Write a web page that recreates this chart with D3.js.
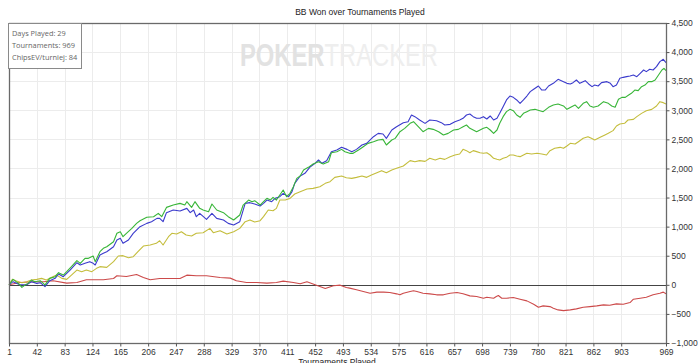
<!DOCTYPE html>
<html>
<head>
<meta charset="utf-8">
<script src="https://cdn.jsdelivr.net/npm/d3@7"></script>
<style>
  html, body { margin: 0; padding: 0; background: #fff; }
  svg { display: block; }
</style>
</head>
<body>
<svg id="chart" width="700" height="363"></svg>
<script>
// ---------------- DATA ----------------
const title = "BB Won over Tournaments Played";
const xTitle = "Tournaments Played";
const infoLines = ["Days Played: 29", "Tournaments: 969", "ChipsEV/turniej: 84"];
const xTickLabels = [1, 42, 83, 124, 165, 206, 247, 288, 329, 370, 411, 452, 493, 534, 575, 616, 657, 698, 739, 780, 821, 862, 903, 969];
const yTickLabels = [-1000, -500, 0, 500, 1000, 1500, 2000, 2500, 3000, 3500, 4000, 4500];

// [tournament, BB]
const blueSeries = [
  [1,0],[7,54],[17,0],[27,0],[34,54],[42,25],[47,37],[54,-32],[61,71],[69,111],[74,186],[81,140],[91,254],[101,380],[106,340],[113,369],[120,398],[125,369],[128,340],[135,512],[140,541],[145,569],[155,655],[160,770],[165,799],[169,713],[177,770],[184,885],[194,999],[204,1056],[211,1085],[219,1142],[223,1142],[228,1085],[233,1240],[243,1286],[253,1268],[263,1314],[268,1240],[273,1286],[277,1171],[282,1228],[292,1125],[300,1228],[307,1142],[317,1114],[324,1056],[332,1028],[341,1085],[349,1400],[356,1412],[363,1389],[371,1354],[376,1400],[381,1457],[388,1429],[393,1486],[400,1515],[405,1572],[413,1515],[418,1601],[422,1744],[430,1870],[437,1916],[445,2030],[452,2088],[457,2145],[462,2088],[469,2134],[476,2288],[484,2317],[491,2363],[499,2328],[506,2288],[513,2328],[521,2403],[528,2431],[538,2546],[545,2603],[552,2592],[557,2517],[565,2661],[572,2718],[582,2787],[589,2804],[594,2918],[599,2890],[606,2832],[614,2775],[621,2832],[631,2821],[638,2787],[643,2747],[651,2758],[658,2804],[665,2832],[670,2862],[675,2919],[680,2936],[685,2890],[690,2862],[695,2862],[700,2890],[705,2850],[710,2902],[715,2833],[720,2862],[724,2947],[729,3062],[734,3177],[739,3245],[744,3222],[749,3177],[754,3119],[759,3177],[764,3245],[769,3320],[774,3360],[781,3417],[786,3348],[791,3348],[796,3417],[803,3463],[810,3532],[818,3492],[823,3463],[828,3452],[832,3475],[837,3520],[842,3463],[850,3509],[855,3452],[860,3406],[864,3434],[869,3417],[874,3475],[882,3492],[887,3463],[891,3406],[896,3434],[901,3549],[906,3566],[911,3578],[916,3589],[921,3606],[926,3578],[931,3635],[936,3692],[940,3664],[945,3704],[950,3692],[955,3750],[960,3836],[965,3876],[969,3818]
];
const greenSeries = [
  [1,0],[7,94],[15,25],[20,-44],[25,0],[29,25],[34,82],[39,54],[47,71],[54,0],[61,111],[69,140],[74,209],[81,168],[86,226],[93,312],[101,415],[106,369],[113,455],[118,455],[125,495],[128,398],[135,569],[140,627],[145,655],[155,741],[160,885],[165,913],[169,827],[174,885],[182,970],[189,1056],[194,1102],[204,1160],[214,1171],[221,1228],[226,1171],[233,1331],[243,1371],[253,1400],[260,1371],[263,1429],[270,1331],[275,1429],[282,1314],[287,1286],[295,1257],[300,1389],[307,1286],[317,1240],[324,1171],[332,1114],[341,1200],[346,1371],[354,1457],[359,1429],[363,1446],[371,1371],[376,1429],[381,1486],[386,1457],[390,1503],[395,1457],[400,1543],[405,1629],[410,1515],[415,1572],[420,1687],[425,1830],[430,1870],[435,1973],[442,2019],[449,2076],[457,2116],[464,2076],[472,2116],[476,2271],[484,2288],[491,2328],[496,2288],[503,2260],[508,2260],[516,2317],[523,2374],[530,2431],[538,2460],[545,2489],[552,2500],[557,2403],[565,2489],[570,2517],[577,2632],[584,2689],[592,2775],[597,2804],[604,2718],[611,2632],[619,2689],[626,2672],[634,2632],[641,2575],[648,2603],[656,2661],[663,2672],[670,2718],[675,2747],[680,2690],[685,2661],[690,2632],[695,2661],[700,2690],[705,2707],[710,2661],[715,2604],[720,2661],[724,2776],[729,2890],[734,2976],[739,3016],[744,2993],[749,2919],[754,2879],[759,2947],[764,2976],[769,3005],[776,3016],[783,2993],[788,2976],[796,3051],[803,3091],[810,3108],[818,3074],[823,3016],[830,3062],[835,3091],[840,3033],[847,3119],[852,3148],[857,3074],[862,3051],[869,3074],[877,3148],[884,3119],[889,3074],[894,3051],[899,3188],[904,3222],[909,3222],[914,3263],[918,3291],[923,3348],[928,3337],[933,3406],[938,3434],[943,3492],[948,3492],[953,3520],[958,3606],[963,3692],[966,3721],[969,3681]
];
const yellowSeries = [
  [1,0],[6,94],[12,65],[20,37],[27,54],[34,82],[42,94],[49,111],[56,82],[64,129],[71,168],[79,111],[86,94],[93,168],[101,254],[108,226],[115,254],[123,226],[130,283],[135,312],[145,300],[155,398],[162,495],[169,501],[177,466],[184,483],[191,569],[199,667],[209,684],[218,713],[223,758],[228,684],[236,827],[241,885],[248,873],[255,913],[262,856],[270,839],[277,885],[287,896],[297,970],[302,896],[312,930],[322,873],[332,913],[341,970],[349,1085],[356,1114],[363,1079],[371,1102],[376,1171],[383,1286],[390,1274],[395,1314],[400,1457],[408,1457],[415,1486],[422,1561],[430,1601],[440,1646],[449,1658],[459,1687],[467,1744],[474,1773],[481,1847],[491,1870],[498,1841],[506,1830],[513,1847],[521,1870],[528,1847],[535,1887],[543,1927],[550,1962],[557,1927],[565,1973],[572,2002],[582,2042],[592,2134],[599,2116],[606,2134],[614,2122],[621,2174],[629,2145],[636,2174],[643,2156],[651,2202],[658,2231],[665,2248],[670,2329],[675,2306],[680,2271],[685,2306],[690,2289],[695,2271],[700,2260],[705,2271],[710,2231],[715,2174],[720,2157],[724,2145],[729,2174],[734,2191],[739,2231],[744,2231],[749,2214],[754,2203],[759,2231],[764,2260],[771,2249],[779,2260],[786,2249],[793,2231],[798,2306],[805,2346],[813,2363],[818,2346],[823,2386],[828,2432],[835,2420],[840,2460],[847,2518],[854,2546],[859,2518],[864,2489],[872,2535],[879,2575],[884,2604],[891,2650],[896,2730],[901,2764],[908,2776],[913,2833],[921,2844],[926,2890],[933,2947],[940,2993],[948,3016],[955,3074],[960,3148],[965,3131],[969,3108]
];
const redSeries = [
  [1,0],[17,40],[37,52],[52,52],[66,69],[86,29],[101,40],[115,86],[130,86],[140,86],[155,109],[160,155],[174,143],[189,178],[199,126],[209,86],[223,109],[238,109],[253,109],[263,166],[277,155],[292,155],[312,126],[327,115],[336,69],[351,40],[366,40],[381,29],[395,40],[405,63],[420,40],[430,17],[440,52],[454,-6],[467,-63],[479,-17],[489,-6],[498,-46],[503,-57],[513,-86],[523,-115],[533,-144],[543,-126],[553,-126],[562,-132],[572,-155],[577,-172],[582,-144],[592,-115],[597,-103],[602,-115],[611,-144],[621,-155],[631,-172],[641,-172],[651,-144],[661,-132],[670,-155],[680,-190],[690,-201],[700,-230],[705,-213],[715,-230],[719,-201],[722,-184],[727,-230],[734,-230],[744,-218],[754,-247],[764,-276],[774,-333],[781,-385],[788,-362],[798,-374],[803,-402],[810,-431],[818,-443],[828,-431],[837,-414],[847,-385],[857,-374],[867,-362],[877,-345],[886,-351],[896,-328],[906,-333],[916,-305],[921,-247],[931,-230],[940,-213],[950,-172],[960,-144],[965,-126],[969,-155]
];

// ---------------- DRAWING ----------------
const svg = d3.select("#chart");
const pLeft = 9, pRight = 666, pTop = 23, pBottom = 343;
const x = d3.scaleLinear().domain([1, 969]).range([pLeft, pRight]);
const y = d3.scaleLinear().domain([-1000, 4500]).range([pBottom, pTop]);
const labelFont = "'Liberation Sans', Arial, sans-serif";

// grid
const grid = svg.append("g").attr("stroke", "#ececec").attr("stroke-width", 1);
grid.selectAll("line.v").data(xTickLabels).join("line").attr("class", "v")
  .attr("x1", d => Math.round(x(d)) + 0.5).attr("x2", d => Math.round(x(d)) + 0.5)
  .attr("y1", pTop).attr("y2", pBottom);
grid.selectAll("line.h").data(yTickLabels).join("line").attr("class", "h")
  .attr("x1", pLeft).attr("x2", pRight)
  .attr("y1", d => Math.round(y(d)) + 0.5).attr("y2", d => Math.round(y(d)) + 0.5);

// watermark (single text, two styled parts)
const wm = svg.append("text").attr("x", 240).attr("y", 66)
  .attr("font-family", labelFont).attr("font-size", 31)
  .attr("textLength", 198).attr("lengthAdjust", "spacingAndGlyphs");
wm.append("tspan").attr("font-weight", "bold").attr("fill", "#e2e2e2").text("POKER");
wm.append("tspan").attr("fill", "#eeeeee").text("TRACKER");

// zero line
svg.append("line").attr("x1", pLeft).attr("x2", pRight)
  .attr("y1", Math.round(y(0)) + 0.5).attr("y2", Math.round(y(0)) + 0.5)
  .attr("stroke", "#444").attr("stroke-width", 1.2);

// series lines
const line = d3.line().x(d => x(d[0])).y(d => y(d[1]));
const seriesList = [
  { data: redSeries, color: "#cc4a4a" },
  { data: yellowSeries, color: "#c4bd3c" },
  { data: blueSeries, color: "#3b3bcc" },
  { data: greenSeries, color: "#38b538" }
];
svg.append("g").selectAll("path").data(seriesList).join("path")
  .attr("d", d => line(d.data))
  .attr("fill", "none").attr("stroke", d => d.color)
  .attr("stroke-width", 1.1).attr("stroke-linejoin", "round");

// frame
svg.append("rect").attr("x", pLeft + 0.5).attr("y", pTop + 0.5)
  .attr("width", pRight - pLeft).attr("height", pBottom - pTop)
  .attr("fill", "none").attr("stroke", "#6a6a6a").attr("stroke-width", 1.3);

// x axis
const xAxis = d3.axisBottom(x).tickValues(xTickLabels).tickSize(3).tickPadding(2).tickFormat(d3.format("d"));
const gx = svg.append("g").attr("transform", `translate(0,${pBottom + 0.5})`).call(xAxis);
gx.select(".domain").remove();
gx.selectAll(".tick line").attr("stroke", "#555");
gx.selectAll(".tick text").attr("font-family", labelFont).attr("font-size", 8.5).attr("fill", "#333");

// y axis on right
const yAxis = d3.axisRight(y).tickValues(yTickLabels).tickSize(3).tickPadding(2).tickFormat(d3.format(","));
const gy = svg.append("g").attr("transform", `translate(${pRight + 0.5},0)`).call(yAxis);
gy.select(".domain").remove();
gy.selectAll(".tick line").attr("stroke", "#555");
gy.selectAll(".tick text").attr("font-family", labelFont).attr("font-size", 8.5).attr("fill", "#333");

// titles
svg.append("text").attr("x", 360).attr("y", 15).attr("text-anchor", "middle")
  .attr("font-family", labelFont).attr("font-size", 8.5).attr("fill", "#222").text(title);
svg.append("text").attr("x", 337).attr("y", 364.5).attr("text-anchor", "middle")
  .attr("font-family", labelFont).attr("font-size", 8.5).attr("fill", "#222").text(xTitle);

// info box
svg.append("rect").attr("x", 8.5).attr("y", 23.5).attr("width", 73).attr("height", 45)
  .attr("fill", "#fff").attr("stroke", "#8a8a8a").attr("stroke-width", 1);
svg.append("g").selectAll("text").data(infoLines).join("text")
  .attr("x", 12).attr("y", (d, i) => 36 + i * 12.2)
  .attr("font-family", "'Open Sans', 'Noto Sans', sans-serif").attr("font-size", 7.4)
  .attr("fill", "#666").text(d => d);
</script>
</body>
</html>
